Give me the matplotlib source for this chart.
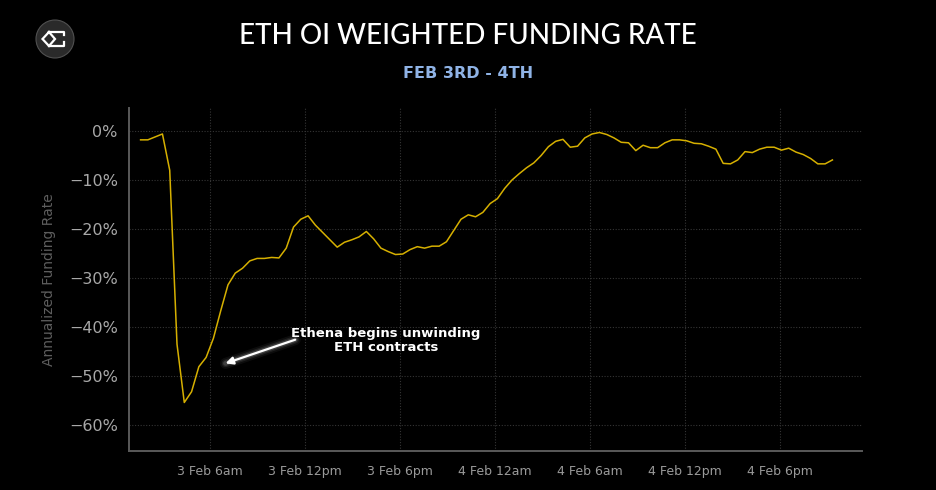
import numpy as np
import pandas as pd
import matplotlib
matplotlib.use("Agg")
import matplotlib.pyplot as plt
from matplotlib.patches import Circle

# Data (annualized funding rate in %)
start = "2025-02-03 01:36"
end = "2025-02-04 21:18"
funding = [
    -1.8, -1.8, -1.2, -0.6, -8.0, -43.5, -55.4, -53.2, -48.1, -46.2,
    -42.3, -36.7, -31.4, -29.0, -28.0, -26.5, -26.0, -26.0, -25.8, -25.9,
    -23.9, -19.6, -18.0, -17.3, -19.2, -20.7, -22.2, -23.7, -22.7, -22.2,
    -21.6, -20.5, -22.0, -23.9, -24.6, -25.2, -25.1, -24.2, -23.6, -23.9,
    -23.5, -23.5, -22.6, -20.3, -18.0, -17.1, -17.5, -16.6, -14.8, -13.8,
    -11.7, -10.0, -8.7, -7.5, -6.5, -5.0, -3.2, -2.1, -1.7, -3.3,
    -3.1, -1.4, -0.6, -0.3, -0.7, -1.4, -2.3, -2.4, -4.0, -2.9,
    -3.4, -3.4, -2.4, -1.8, -1.8, -2.0, -2.5, -2.6, -3.1, -3.7,
    -6.6, -6.7, -5.9, -4.2, -4.4, -3.7, -3.3, -3.3, -3.9, -3.5,
    -4.3, -4.8, -5.6, -6.7, -6.7, -5.9,
]
times = pd.date_range(start, end, periods=len(funding))

tick_times = pd.to_datetime([
    "2025-02-03 06:00", "2025-02-03 12:00", "2025-02-03 18:00",
    "2025-02-04 00:00", "2025-02-04 06:00", "2025-02-04 12:00",
    "2025-02-04 18:00",
])
tick_labels = ["3 Feb 6am", "3 Feb 12pm", "3 Feb 6pm", "4 Feb 12am",
               "4 Feb 6am", "4 Feb 12pm", "4 Feb 6pm"]
y_ticks = [0, -10, -20, -30, -40, -50, -60]

# Figure
fig = plt.figure(figsize=(9.36, 4.9), dpi=100, facecolor="black")
ax = fig.add_axes([0.1378, 0.0796, 0.7831, 0.70])
ax.set_facecolor("black")

ax.plot(times, funding, color="#d6b000", lw=1.1, zorder=3)

ax.set_xlim(pd.Timestamp("2025-02-03 00:52"), pd.Timestamp("2025-02-04 23:10"))
ax.set_ylim(-65.3, 4.7)

ax.set_xticks(tick_times)
ax.set_xticklabels(tick_labels)
ax.set_yticks(y_ticks)
ax.set_yticklabels([f"{v}%".replace("-", "\u2212") for v in y_ticks])

ax.grid(True, color="#353535", lw=0.8, ls=(0, (1, 1.5)))
ax.set_axisbelow(True)
for side in ["top", "right"]:
    ax.spines[side].set_visible(False)
for side in ["left", "bottom"]:
    ax.spines[side].set_color("#5a5a5a")
    ax.spines[side].set_linewidth(1.4)

ax.tick_params(axis="both", length=0)
ax.tick_params(axis="y", labelsize=11.5, labelcolor="#a8a8a8", pad=8)
ax.tick_params(axis="x", labelsize=9, labelcolor="#9a9a9a", pad=10)
ax.set_ylabel("Annualized Funding Rate", color="#5e5e5e", fontsize=10, labelpad=9)

# annotation with a soft glow
tip = (pd.Timestamp("2025-02-03 06:48"), -47.6)
tail = (pd.Timestamp("2025-02-03 11:32"), -42.4)
for w, a in [(8, 0.05), (5.5, 0.08), (3.5, 0.15)]:
    ax.annotate("", xy=tip, xytext=tail,
                arrowprops=dict(arrowstyle="-", color="white", lw=w, alpha=a))
ax.annotate("", xy=tip, xytext=tail,
            arrowprops=dict(arrowstyle="-|>", color="white", lw=1.6,
                            mutation_scale=11))
ax.text(pd.Timestamp("2025-02-03 17:05"), -42.7,
        "Ethena begins unwinding\nETH contracts", color="white",
        fontsize=9.5, fontweight="bold", ha="center", va="center",
        linespacing=1.15)

# titles
fig.text(0.5, 0.926, "ETH OI WEIGHTED FUNDING RATE", color="white",
         fontsize=20, fontfamily="Lato", fontweight="medium",
         ha="center", va="center")
fig.text(0.5, 0.851, "FEB 3RD - 4TH", color="#8fb3e6", fontsize=11.5,
         fontweight="bold", ha="center", va="center")

# logo
lax = fig.add_axes([30 / 936, 1 - 64 / 490, 50 / 936, 50 / 490])
lax.set_xlim(30, 80)
lax.set_ylim(64, 14)
lax.axis("off")
lax.add_patch(Circle((55, 39), 19, facecolor="#2a2a2a", edgecolor="#505050", lw=0.8))
lax.plot([49, 42.5, 49, 55, 49], [32, 39, 46, 39, 32],
         color="white", lw=1.6, solid_joinstyle="miter")
lax.plot([49, 64, 64], [32, 32, 35.5], color="white", lw=1.6)
lax.plot([49, 64, 64], [46, 46, 42.5], color="white", lw=1.6)

fig.savefig("out.png", dpi=100, facecolor="black")
